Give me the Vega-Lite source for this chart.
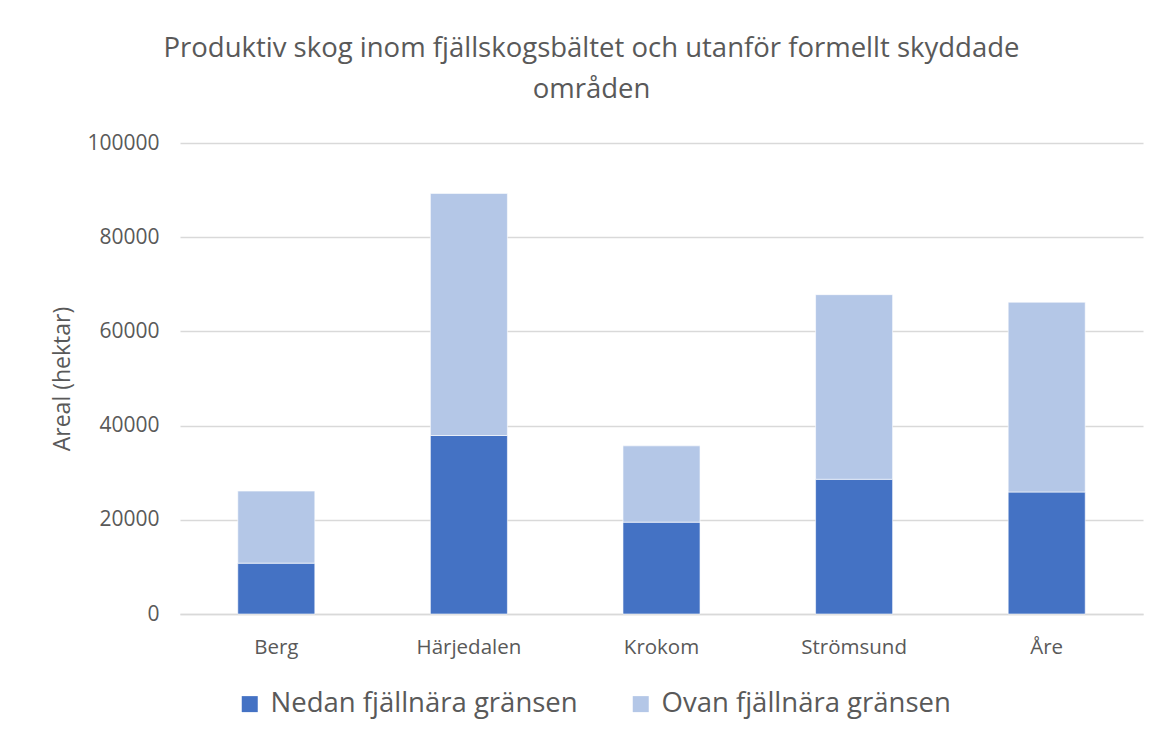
{
  "$schema": "https://vega.github.io/schema/vega-lite/v6.json",
  "autosize": {"type": "none"},
  "padding": {"left": 180, "top": 143, "right": 15, "bottom": 126},
  "width": 963,
  "height": 471,
  "background": "white",
  "title": {
    "text": ["Produktiv skog inom fjällskogsbältet och utanför formellt skyddade", "områden"],
    "font": "Open Sans",
    "fontSize": 27.5,
    "fontWeight": "normal",
    "color": "#595959",
    "lineHeight": 41,
    "anchor": "middle",
    "dx": -70,
    "offset": 29
  },
  "data": {
    "values": [
      {"kommun": "Berg", "serie": "Nedan fjällnära gränsen", "ordning": 1, "areal": 10800},
      {"kommun": "Berg", "serie": "Ovan fjällnära gränsen", "ordning": 2, "areal": 15300},
      {"kommun": "Härjedalen", "serie": "Nedan fjällnära gränsen", "ordning": 1, "areal": 37900},
      {"kommun": "Härjedalen", "serie": "Ovan fjällnära gränsen", "ordning": 2, "areal": 51400},
      {"kommun": "Krokom", "serie": "Nedan fjällnära gränsen", "ordning": 1, "areal": 19500},
      {"kommun": "Krokom", "serie": "Ovan fjällnära gränsen", "ordning": 2, "areal": 16200},
      {"kommun": "Strömsund", "serie": "Nedan fjällnära gränsen", "ordning": 1, "areal": 28600},
      {"kommun": "Strömsund", "serie": "Ovan fjällnära gränsen", "ordning": 2, "areal": 39200},
      {"kommun": "Åre", "serie": "Nedan fjällnära gränsen", "ordning": 1, "areal": 25900},
      {"kommun": "Åre", "serie": "Ovan fjällnära gränsen", "ordning": 2, "areal": 40300}
    ]
  },
  "mark": {"type": "bar", "stroke": "white", "strokeWidth": 1, "strokeOpacity": 0.6},
  "encoding": {
    "x": {
      "field": "kommun",
      "type": "nominal",
      "sort": ["Berg", "Härjedalen", "Krokom", "Strömsund", "Åre"],
      "scale": {"paddingInner": 0.6, "paddingOuter": 0.3},
      "axis": {
        "title": null,
        "labelAngle": 0,
        "labelFont": "Open Sans",
        "labelFontSize": 20.5,
        "labelColor": "#595959",
        "labelPadding": 23,
        "ticks": false,
        "domainColor": "#D9D9D9",
        "domainWidth": 1.5
      }
    },
    "y": {
      "field": "areal",
      "type": "quantitative",
      "stack": "zero",
      "scale": {"domain": [0, 100000], "nice": false},
      "axis": {
        "title": "Areal (hektar)",
        "titleFont": "Open Sans",
        "titleFontSize": 23,
        "titleFontWeight": "normal",
        "titleColor": "#595959",
        "titlePadding": 12,
        "values": [0, 20000, 40000, 60000, 80000, 100000],
        "format": "d",
        "labelFont": "Open Sans",
        "labelFontSize": 21,
        "labelColor": "#595959",
        "labelPadding": 21,
        "ticks": false,
        "domain": false,
        "gridColor": "#D9D9D9",
        "gridWidth": 1.5
      }
    },
    "color": {
      "field": "serie",
      "type": "nominal",
      "scale": {"domain": ["Nedan fjällnära gränsen", "Ovan fjällnära gränsen"], "range": ["#4472C4", "#B4C7E7"]},
      "legend": {
        "title": null,
        "orient": "none",
        "legendX": 56,
        "legendY": 547,
        "direction": "horizontal",
        "symbolType": "square",
        "symbolSize": 256,
        "symbolStrokeWidth": 0,
        "labelFont": "Open Sans",
        "labelFontSize": 27.5,
        "labelColor": "#595959",
        "labelOffset": 7,
        "columnPadding": 49,
        "labelLimit": 450
      }
    },
    "order": {"field": "ordning", "type": "quantitative"}
  },
  "config": {"view": {"stroke": null}}
}
